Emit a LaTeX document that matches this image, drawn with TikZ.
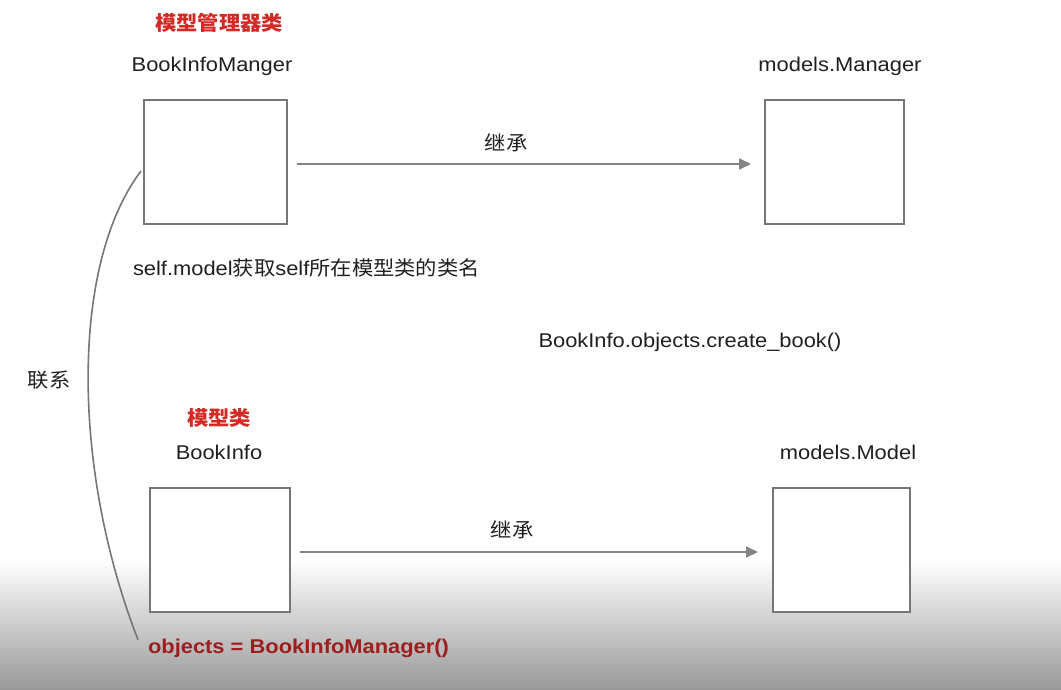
\documentclass[tikz,border=0pt]{standalone}
\usepackage{fontspec}
\setmainfont[FakeStretch=1.1]{Liberation Sans}
\newfontfamily\cjk[FakeStretch=1.07]{Noto Sans CJK SC}
\usetikzlibrary{arrows.meta}
\definecolor{titlered}{HTML}{D42A26}
\definecolor{darkred}{HTML}{9E1D1D}
\definecolor{linegray}{HTML}{767676}
\definecolor{txt}{HTML}{202020}
\begin{document}
\begin{tikzpicture}[x=1pt,y=-1pt,
  every node/.style={inner sep=0pt,outer sep=0pt,text=txt,font=\fontsize{19.9}{23}\selectfont},
  classbox/.style={draw=linegray,line width=2pt,fill=white},
  inherit/.style={draw=linegray!90,line width=2pt,-{Triangle[length=12pt,width=11pt]}},
  title/.style={text=titlered,font=\fontsize{19.9}{23}\selectfont\bfseries},
  link/.style={draw=linegray,line width=1.6pt}]
\useasboundingbox (0,0) rectangle (1061,689);
\fill[white] (0,0) rectangle (1061,689);
\shade[top color=white,bottom color=black!40] (0,560) rectangle (1061,689);
% titles and labels
\node[title] (t1) at (219,23) {\cjk 模型管理器类};
\node (l1) at (212,66) {BookInfoManger};
\node (l2) at (840,66) {models.Manager};
\node[title] (t2) at (219,418) {\cjk 模型类};
\node (l3) at (219,452) {BookInfo};
\node (l4) at (848,452) {models.Model};
% boxes
\node[classbox,minimum width=143pt,minimum height=124pt] (b1) at (215.5,162) {};
\node[classbox,minimum width=139pt,minimum height=124pt] (b2) at (834.5,162) {};
\node[classbox,minimum width=140pt,minimum height=124pt] (b3) at (220,550) {};
\node[classbox,minimum width=137pt,minimum height=124pt] (b4) at (841.5,550) {};
% inheritance arrows
\draw[inherit,shorten <=10pt,shorten >=14pt] ([yshift=-2pt]b1.east) -- ([yshift=-2pt]b1.east -| b2.west);
\node (e1) at (506,143) {\cjk 继承};
\draw[inherit,shorten <=10pt,shorten >=15pt] ([yshift=-2pt]b3.east) -- ([yshift=-2pt]b3.east -| b4.west);
\node (e2) at (512,530) {\cjk 继承};
% texts
\node[anchor=west] (s) at (133,268) {self.model{\cjk 获取}self{\cjk 所在模型类的类名}};
\node (c) at (690,342) {BookInfo.objects.create\_book()};
\node (lx) at (49,380) {\cjk 联系};
\node[anchor=west,text=darkred,font=\fontsize{19.9}{23}\selectfont\bfseries] (obj) at (148,648) {objects = BookInfoManager()};
% relation curve
\coordinate (cs) at ([xshift=-3pt,yshift=-9pt]b1.west);
\coordinate (ce) at ([xshift=-10pt,yshift=-1pt]obj.north west);
\draw[link] (cs) .. controls (70,265) and (72,470) .. (ce);
\end{tikzpicture}
\end{document}
